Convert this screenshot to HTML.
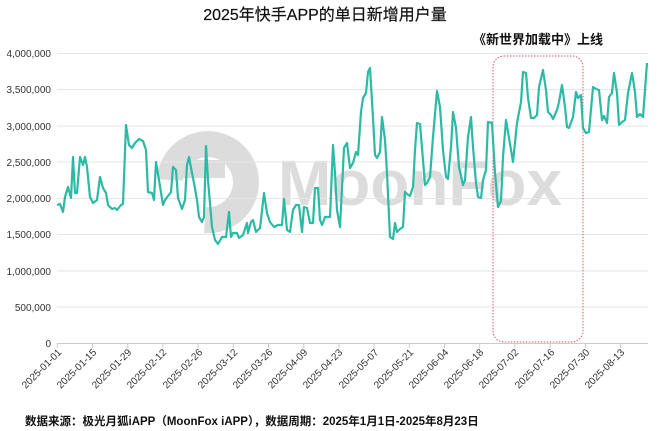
<!DOCTYPE html>
<html><head><meta charset="utf-8"><style>
html,body{margin:0;padding:0;background:#fff;}
svg{display:block;font-family:"Liberation Sans","Noto Sans CJK SC",sans-serif;}
</style></head><body>
<svg width="660" height="431" viewBox="0 0 660 431" xmlns="http://www.w3.org/2000/svg">
<text x="325" y="20" text-anchor="middle" font-size="16" fill="#111" stroke="#111" stroke-width="0.2">2025年快手APP的单日新增用户量</text>
<text x="538" y="44" text-anchor="middle" font-size="13" font-weight="bold" fill="#111">《新世界加载中》上线</text>
<!-- watermark -->
<g fill="none" stroke="#dcdcdc" stroke-width="26">
<path d="M170 180 A38 38 0 1 1 205 220"/>
</g>
<rect x="180" y="160" width="45" height="18" fill="#dcdcdc"/>
<text x="278" y="205" font-size="64" font-weight="bold" fill="#dcdcdc" textLength="284" lengthAdjust="spacingAndGlyphs">MoonFox</text>
<!-- grid -->
<g stroke="#e6e6e6" stroke-width="1">
<line x1="57" x2="648" y1="53.5" y2="53.5"/><line x1="57" x2="648" y1="89.5" y2="89.5"/>
<line x1="57" x2="648" y1="126" y2="126"/><line x1="57" x2="648" y1="162" y2="162"/>
<line x1="57" x2="648" y1="198.5" y2="198.5"/><line x1="57" x2="648" y1="234.5" y2="234.5"/>
<line x1="57" x2="648" y1="271" y2="271"/><line x1="57" x2="648" y1="307" y2="307"/>
</g>
<line x1="57" x2="648" y1="343.5" y2="343.5" stroke="#ccc"/>
<g font-size="10" fill="#333" text-anchor="end">
<text x="51" y="57">4,000,000</text><text x="51" y="93">3,500,000</text>
<text x="51" y="130">3,000,000</text><text x="51" y="166">2,500,000</text>
<text x="51" y="202">2,000,000</text><text x="51" y="238">1,500,000</text>
<text x="51" y="275">1,000,000</text><text x="51" y="311">500,000</text>
<text x="51" y="347">0</text>
</g>
<g stroke="#ccc">
<line x1="57.3" x2="57.3" y1="343" y2="348"/><line x1="92.5" x2="92.5" y1="343" y2="348"/>
<line x1="127.7" x2="127.7" y1="343" y2="348"/><line x1="162.9" x2="162.9" y1="343" y2="348"/>
<line x1="198.1" x2="198.1" y1="343" y2="348"/><line x1="233.3" x2="233.3" y1="343" y2="348"/>
<line x1="268.5" x2="268.5" y1="343" y2="348"/><line x1="303.7" x2="303.7" y1="343" y2="348"/>
<line x1="338.9" x2="338.9" y1="343" y2="348"/><line x1="374.1" x2="374.1" y1="343" y2="348"/>
<line x1="409.3" x2="409.3" y1="343" y2="348"/><line x1="444.5" x2="444.5" y1="343" y2="348"/>
<line x1="479.7" x2="479.7" y1="343" y2="348"/><line x1="514.9" x2="514.9" y1="343" y2="348"/>
<line x1="550.1" x2="550.1" y1="343" y2="348"/><line x1="585.3" x2="585.3" y1="343" y2="348"/>
<line x1="620.5" x2="620.5" y1="343" y2="348"/>
</g>
<g font-size="10" fill="#333" text-anchor="end">
<text transform="translate(62,353) rotate(-45)">2025-01-01</text>
<text transform="translate(97,353) rotate(-45)">2025-01-15</text>
<text transform="translate(132,353) rotate(-45)">2025-01-29</text>
<text transform="translate(167,353) rotate(-45)">2025-02-12</text>
<text transform="translate(203,353) rotate(-45)">2025-02-26</text>
<text transform="translate(238,353) rotate(-45)">2025-03-12</text>
<text transform="translate(273,353) rotate(-45)">2025-03-26</text>
<text transform="translate(308,353) rotate(-45)">2025-04-09</text>
<text transform="translate(343,353) rotate(-45)">2025-04-23</text>
<text transform="translate(379,353) rotate(-45)">2025-05-07</text>
<text transform="translate(414,353) rotate(-45)">2025-05-21</text>
<text transform="translate(449,353) rotate(-45)">2025-06-04</text>
<text transform="translate(484,353) rotate(-45)">2025-06-18</text>
<text transform="translate(519,353) rotate(-45)">2025-07-02</text>
<text transform="translate(555,353) rotate(-45)">2025-07-16</text>
<text transform="translate(590,353) rotate(-45)">2025-07-30</text>
<text transform="translate(625,353) rotate(-45)">2025-08-13</text>
</g>
<rect x="493" y="56" width="90" height="286" rx="11" fill="none" stroke="#e05a6e" stroke-width="1" stroke-dasharray="1.5 1.5"/>
<polyline fill="none" stroke="#2cbaa5" stroke-width="2.2" stroke-linejoin="round" points="57,205 60,204 63,212 65,197 68,187 71,198 73,157 75,193 77,193 80,157 83,165 85,157 87,167 90,197 93,203 97,200 100,177 103,188 106,193 108,205 112,209 115,208 117,210 121,205 123,204 126,125 129,145 132,148 135,143 139,139 143,141 146,150 148,192 152,193 154,200 156,162 159,180 163,205 165,200 168,196 171,192 173,167 176,170 178,198 182,209 185,200 187,165 189,157 192,173 194,183 197,200 199,217 202,222 204,217 206,146 208,180 212,227 215,240 218,244 222,237 226,237 229,212 231,237 233,233 237,233 239,238 243,235 247,223 248,233 251,222 253,220 256,232 260,228 264,193 267,213 270,222 274,227 278,225 282,225 284,199 287,230 290,232 293,210 296,205 299,205 302,232 304,207 307,208 310,223 313,223 315,188 318,188 320,220 322,225 325,217 328,217 330,217 333,145 335,173 337,210 340,227 344,148 347,143 350,168 353,163 356,152 358,155 361,112 363,98 366,93 368,72 370,68 373,118 375,155 377,158 380,152 382,117 385,140 387,173 390,237 393,239 395,223 397,232 400,229 403,227 405,192 407,194 410,196 413,187 415,150 417,123 420,124 423,160 425,185 427,183 430,177 433,137 437,91 440,107 443,150 446,177 448,179 451,147 453,112 456,128 459,167 463,185 465,180 468,137 471,117 473,147 476,183 478,197 481,198 483,180 486,170 488,122 492,123 495,173 498,207 501,201 503,157 506,120 508,132 511,150 513,162 517,123 521,102 523,72 526,73 528,98 531,118 534,118 537,115 539,87 543,70 546,90 548,112 551,115 553,119 557,110 559,102 562,85 565,107 567,127 569,128 573,117 576,92 578,98 581,95 583,128 586,133 589,132 593,87 596,89 599,90 602,120 604,116 607,123 609,97 612,93 614,73 617,93 619,125 622,122 625,120 628,93 632,73 635,92 637,117 640,114 643,117 647,63"/>
<text x="25" y="425" font-size="11.5" font-weight="bold" fill="#111">数据来源：极光月狐iAPP（MoonFox iAPP），数据周期：2025年1月1日-2025年8月23日</text>
</svg>
</body></html>
